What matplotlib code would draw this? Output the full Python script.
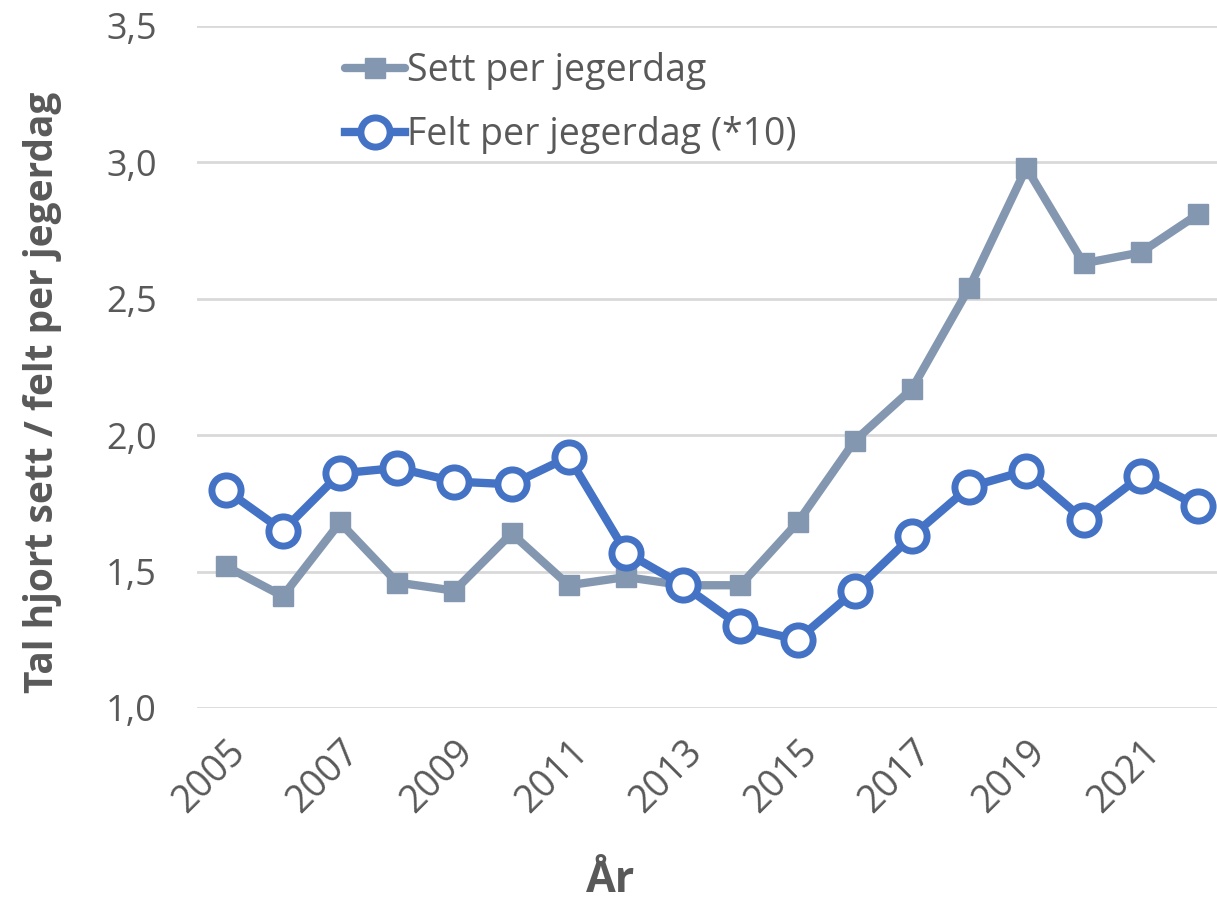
import matplotlib
matplotlib.use("Agg")
import matplotlib.pyplot as plt

years = list(range(2005, 2023))
sett = [1.52, 1.41, 1.68, 1.46, 1.43, 1.64, 1.45, 1.48, 1.45, 1.45, 1.68, 1.98, 2.17, 2.54, 2.98, 2.63, 2.67, 2.81]
felt = [1.80, 1.65, 1.86, 1.88, 1.83, 1.82, 1.92, 1.57, 1.45, 1.30, 1.25, 1.43, 1.63, 1.81, 1.87, 1.69, 1.85, 1.74]
yticks = [1.0, 1.5, 2.0, 2.5, 3.0, 3.5]
xticks = list(range(2005, 2022, 2))

plt.rcParams['font.family'] = ['Open Sans', 'DejaVu Sans']
txt = '#595959'
fig = plt.figure(figsize=(12.17, 9.05), dpi=100)
ax = fig.add_axes([197/1217, 1-708/905, 1-197/1217, (708-26)/905])

ax.plot(years, sett, color='#8497B0', lw=6, marker='s', ms=15, solid_joinstyle='round',
        solid_capstyle='round', label='Sett per jegerdag', zorder=3)
ax.plot(years, felt, color='#4472C4', lw=6, marker='o', ms=21, mfc='white', mew=5,
        solid_joinstyle='round', label='Felt per jegerdag (*10)', zorder=4)

ax.set_ylim(1.0, 3.5)
ax.set_xlim(2004.5, 2004.5 + 1020/57.2)
ax.set_yticks(yticks)
ax.set_yticklabels([f"{v:.1f}".replace('.', ',') for v in yticks])
ax.set_xticks(xticks)
ax.set_xticklabels([str(x) for x in xticks], rotation=45, ha='right', rotation_mode='anchor')
ax.grid(axis='y', color='#D9D9D9', lw=2)
ax.set_axisbelow(True)
for s in ax.spines.values():
    s.set_visible(False)
ax.tick_params(axis='y', length=0, labelsize=26, colors=txt, pad=29)
ax.tick_params(axis='x', length=0, labelsize=27, colors=txt, pad=18)
ax.set_ylabel('Tal hjort sett / felt per jegerdag', fontsize=28, fontweight='bold', color=txt)
ax.yaxis.set_label_coords(-0.132, 0.463)
ax.set_xlabel('År', fontsize=31, fontweight='bold', color=txt)
ax.xaxis.set_label_coords(0.405, -0.222)
leg = ax.legend(loc='upper left', bbox_to_anchor=(0.145, 0.962), frameon=False, fontsize=27,
                handlelength=1.6, handletextpad=0.05, labelspacing=0.7, borderpad=0,
                borderaxespad=0, labelcolor=txt)
fig.savefig('out.png', dpi=100)
